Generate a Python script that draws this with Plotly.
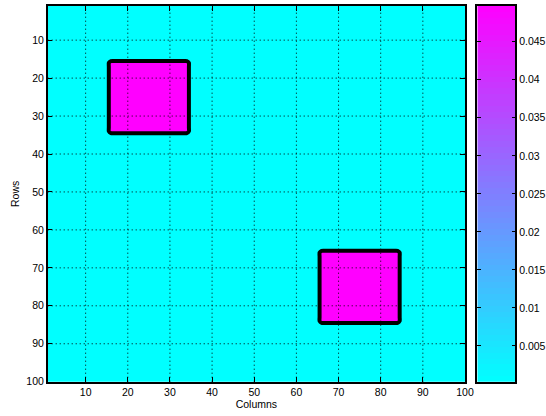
import numpy as np
import plotly.graph_objects as go

# Grid size and the two square blocks (inclusive row/column index ranges)
n_rows = 100
n_cols = 100
block_rows = [(16, 34), (66, 84)]
block_cols = [(16, 34), (66, 84)]
background_value = 0.0003
block_value = 0.0497

# Axis ticks
axis_ticks = [10, 20, 30, 40, 50, 60, 70, 80, 90, 100]
grid_ticks = [10, 20, 30, 40, 50, 60, 70, 80, 90]
cbar_ticks = [0.005, 0.01, 0.015, 0.02, 0.025, 0.03, 0.035, 0.04, 0.045]
cbar_labels = ["0.005", "0.01", "0.015", "0.02", "0.025", "0.03", "0.035", "0.04", "0.045"]

cols = np.arange(1, n_cols + 1)
rows = np.arange(1, n_rows + 1)
z = np.full((n_rows, n_cols), background_value)
for (r0, r1), (c0, c1) in zip(block_rows, block_cols):
    z[r0 - 1:r1, c0 - 1:c1] = block_value

zmin, zmax = background_value, block_value
cool = [[0.0, "rgb(0,255,255)"], [1.0, "rgb(255,0,255)"]]

# 64-step colour bar, drawn as its own image
n_levels = 64
step = (zmax - zmin) / n_levels
bar_centers = zmin + (np.arange(n_levels) + 0.5) * step

font = dict(family="Liberation Sans, Arial, sans-serif", size=10.5, color="black")

fig = go.Figure()
fig.add_trace(go.Heatmap(
    x=cols, y=rows, z=z, colorscale=cool, zmin=zmin, zmax=zmax,
    showscale=False, hoverinfo="skip", xaxis="x", yaxis="y",
))
fig.add_trace(go.Contour(
    x=cols, y=rows, z=z,
    contours=dict(coloring="none", start=(zmin + zmax) / 2, end=(zmin + zmax) / 2, size=1),
    line=dict(color="black", width=4, smoothing=0.6),
    showscale=False, hoverinfo="skip", xaxis="x", yaxis="y",
))
fig.add_trace(go.Heatmap(
    x=[0.5], y=bar_centers, z=bar_centers.reshape(-1, 1),
    colorscale=cool, zmin=zmin, zmax=zmax,
    showscale=False, hoverinfo="skip", xaxis="x2", yaxis="y2",
))

# Dotted grid drawn over the image
shapes = []
for v in grid_ticks:
    shapes.append(dict(type="line", xref="x", yref="y domain", x0=v, x1=v, y0=0, y1=1,
                       line=dict(color="black", width=1, dash="1px,3px"), layer="above"))
    shapes.append(dict(type="line", xref="x domain", yref="y", x0=0, x1=1, y0=v, y1=v,
                       line=dict(color="black", width=1, dash="1px,3px"), layer="above"))

y_dom = [1 - 381.7 / 416, 1 - 6 / 416]
axis_common = dict(
    showline=True, linecolor="black", linewidth=1.5, mirror="ticks",
    ticks="inside", ticklen=5, tickwidth=1, tickcolor="black",
    showgrid=False, zeroline=False, layer="above traces", tickfont=font,
    automargin=False,
)

fig.update_layout(
    width=546, height=416, autosize=False,
    margin=dict(l=0, r=0, t=0, b=0, pad=0, autoexpand=False),
    paper_bgcolor="white", plot_bgcolor="white",
    font=font,
    showlegend=False,
    shapes=shapes,
    xaxis=dict(domain=[47.7 / 546, 465 / 546], range=[1, 100], tickvals=axis_ticks,
               title=dict(text="Columns", font=font, standoff=3), **axis_common),
    yaxis=dict(domain=y_dom, range=[100, 1], tickvals=axis_ticks,
               title=dict(text="Rows", font=font, standoff=5), **axis_common),
    xaxis2=dict(domain=[477.3 / 546, 515.3 / 546], range=[0, 1], anchor="y2",
                showline=True, linecolor="black", linewidth=1.5, mirror=True,
                showticklabels=False, ticks="", showgrid=False, zeroline=False,
                layer="above traces", automargin=False),
    yaxis2=dict(domain=y_dom, range=[zmin, zmax], anchor="x2", side="right",
                tickvals=cbar_ticks, ticktext=cbar_labels,
                showline=True, linecolor="black", linewidth=1.5, mirror="ticks",
                ticks="inside", ticklen=4, tickwidth=1, tickcolor="black",
                showgrid=False, zeroline=False, layer="above traces", tickfont=font,
                automargin=False),
)

fig.write_html("out.html")
